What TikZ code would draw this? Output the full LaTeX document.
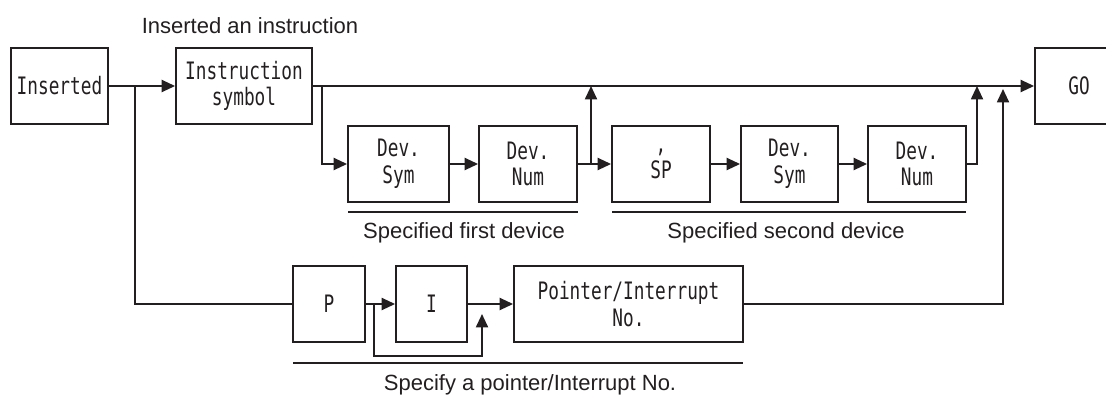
\documentclass[tikz,border=0pt]{standalone}
\usepackage{fontspec}
\setmainfont{Liberation Sans}
\newfontfamily\boxfont{DejaVu Sans Mono}[FakeStretch=0.74]
\usetikzlibrary{arrows.meta,positioning}
\definecolor{ink}{HTML}{231F20}
\tikzset{
  box/.style={draw=ink, line width=1.4pt, minimum height=57pt, inner sep=0pt,
    align=center, text=ink, font=\boxfont\fontsize{18pt}{20pt}\selectfont},
  lbl/.style={text=ink, inner sep=0pt, font=\fontsize{16.5pt}{19pt}\selectfont},
  conn/.style={draw=ink, line width=1.4pt},
  arr/.style={conn, -{Triangle[length=10pt,width=9pt]}},
}
\begin{document}
\begin{tikzpicture}[x=0.75pt,y=-0.75pt]
\useasboundingbox (0,0) rectangle (1106,397);
\clip (0,0) rectangle (1106,397);
% top row
\node[box, minimum width=72.75pt] (ins) at (59.5,86) {Inserted};
\node[box, minimum width=102pt] (instr) at (244,86) {Instruction\\symbol};
\node[box, minimum width=66pt] (go) at (1079,86) {GO};
% second row
\node[box, minimum width=75.75pt] (dsym1) at (398.5,164) {Dev.\\Sym};
\node[box, minimum width=73.5pt] (dnum1) at (528,164) {Dev.\\Num};
\node[box, minimum width=73.5pt] (sp) at (661,164) {,\\SP};
\node[box, minimum width=72.75pt] (dsym2) at (789.5,164) {Dev.\\Sym};
\node[box, minimum width=73.5pt] (dnum2) at (917,164) {Dev.\\Num};
% bottom row
\node[box, minimum width=54pt] (p) at (329,304) {P};
\node[box, minimum width=53.25pt] (i) at (431.5,304) {I};
\node[box, minimum width=171.75pt] (ptr) at (628.5,304) {Pointer/Interrupt\\No.};
% labels
\node[lbl] (l0) at (250,26) {Inserted an instruction};
\node[lbl] (l1) at (464,233) {Specified first device};
\node[lbl] (l2) at (786,233) {Specified second device};
\node[lbl] (l3) at (530,385) {Specify a pointer/Interrupt No.};
% underlines
\draw[conn] (348,212) -- (578,212);
\draw[conn] (612,212) -- (966,212);
\draw[conn] (293,363) -- (743,363);
% coordinates
\coordinate (b1) at (135,86);
\coordinate (b2) at (322,86);
\coordinate (u1) at (591,86);
\coordinate (u2) at (977,86);
\coordinate (u3) at (1003,89);
\coordinate (lp) at (482,314);
% connectors
\draw[arr] (ins.east) -- (instr.west);
\draw[conn] (b1) |- (p.west);
\draw[arr] (instr.east) -- (go.west);
\draw[arr] (b2) |- (dsym1.west);
\draw[arr] (dsym1.east) -- (dnum1.west);
\draw[arr] (dnum1.east) -- (sp.west);
\draw[arr] (dnum1.east -| u1) -- (u1);
\draw[arr] (sp.east) -- (dsym2.west);
\draw[arr] (dsym2.east) -- (dnum2.west);
\draw[arr] (dnum2.east) -| (u2);
\draw[arr] (ptr.east) -| (u3);
\draw[arr] (p.east) -- (i.west);
\draw[arr] (374,304) -- (374,356) -| (lp);
\draw[arr] (i.east) -- (ptr.west);
\end{tikzpicture}
\end{document}
